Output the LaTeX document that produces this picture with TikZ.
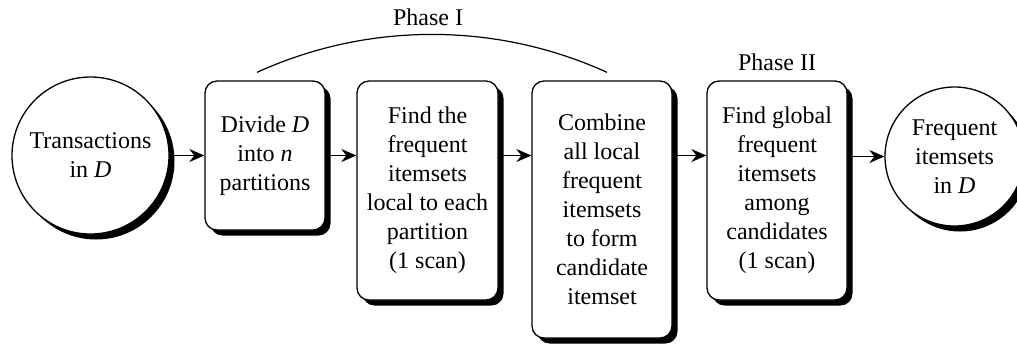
\documentclass[tikz,border=0pt]{standalone}
\usepackage{fontspec}
\setmainfont{Liberation Serif}
\usetikzlibrary{arrows.meta,shadows}
\tikzset{
  lbl/.style={font=\fontsize{12}{14.5}\selectfont, align=center, inner sep=0pt},
  blackshadow/.style={drop shadow={shadow xshift=2.75pt, shadow yshift=-2.75pt, fill=black, opacity=1}},
  proc/.style={lbl, draw, line width=0.65pt, rounded corners=6pt, fill=white, blackshadow},
  term/.style={lbl, draw, circle, line width=0.65pt, fill=white, blackshadow},
  flow/.style={-{Stealth[length=7.5pt,width=6.5pt,inset=2.5pt]}, line width=0.65pt},
  bracketline/.style={line width=0.6pt}
}
\begin{document}
\begin{tikzpicture}[x=0.5pt,y=-0.5pt]
\useasboundingbox (0,0) rectangle (1017,345);
\node[term, minimum size=78.5pt] (c1) at (90.5,155.5) {Transactions\\in \textit{D}};
\node[proc, minimum width=60pt, minimum height=74.5pt] (divide) at (265,155.5) {Divide \textit{D}\\into \textit{n}\\partitions};
\node[proc, minimum width=70.5pt, minimum height=109.5pt] (find) at (427.5,190.5) {Find the\\frequent\\itemsets\\local to each\\partition\\(1 scan)};
\node[proc, minimum width=70pt, minimum height=128.5pt] (combine) at (602,209.5) {Combine\\all local\\frequent\\itemsets\\to form\\candidate\\itemset};
\node[proc, minimum width=70pt, minimum height=109.5pt] (phase2) at (777,190.5) {Find global\\frequent\\itemsets\\among\\candidates\\(1 scan)};
\node[term, minimum size=69.5pt] (c2) at (954.5,156.5) {Frequent\\itemsets\\in \textit{D}};

\draw[flow] (c1) -- (divide);
\draw[flow] (divide.east) -- (find.west |- divide.east);
\draw[flow] (find.east |- divide.east) -- (combine.west |- divide.east);
\draw[flow] (combine.east |- divide.east) -- (phase2.west |- divide.east);
\draw[flow] (phase2.east |- c2.west) -- (c2.west);

\coordinate (pa) at ([xshift=-4pt,yshift=4pt]divide.north);
\coordinate (pb) at ([xshift=2.5pt,yshift=4pt]combine.north);
\draw[bracketline] (pa) .. controls +(111,-50.6) and +(-111,-50.6) .. (pb);
\node[lbl, anchor=base] (ph1) at (428,25) {Phase I};
\node[lbl, anchor=base] (ph2) at ([yshift=5pt]phase2.north) {Phase II};
\end{tikzpicture}
\end{document}
